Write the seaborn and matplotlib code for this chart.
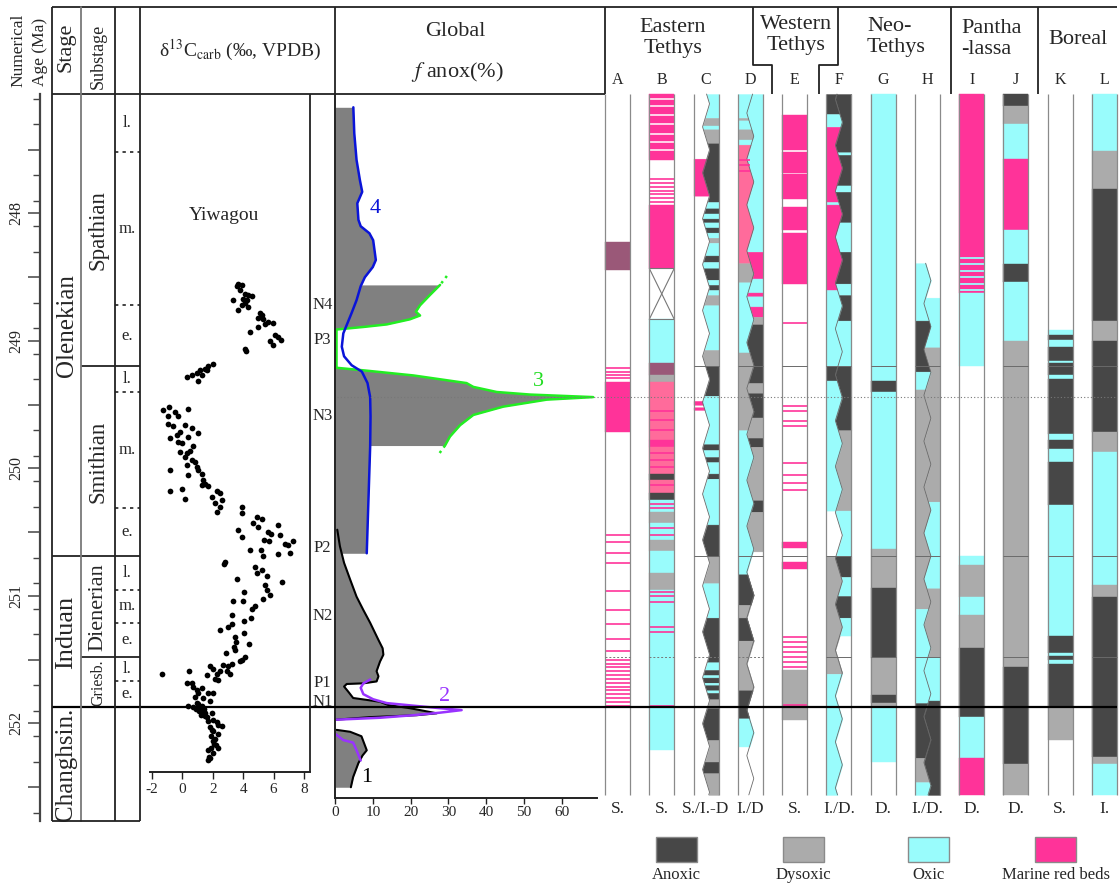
import numpy as np
import matplotlib
matplotlib.use("Agg")
import matplotlib.pyplot as plt
from matplotlib.patches import Rectangle
import seaborn as sns

sns.set_theme(style="ticks")
plt.rcParams["font.family"] = ["Liberation Serif", "DejaVu Serif"]
plt.rcParams["mathtext.fontset"] = "stix"
plt.rcParams["axes.unicode_minus"] = False

# ---------------------------------------------------------------- stratigraphy
STAGE_LABELS = ["Olenekian", "Induan", "Changhsin."]
STAGE_BOUNDS = [247.063, 250.69, 251.874, 252.765]
SUBSTAGE_LABELS = ["Spathian", "Smithian", "Dienerian", "Griesb."]
SUBSTAGE_BOUNDS = [247.063, 249.20, 250.69, 251.48, 251.874]
SUBDIV_LABELS = ["l.", "m.", "e.", "l.", "m.", "e.", "l.", "m.", "e.", "l.", "e."]
SUBDIV_BOUNDS = [247.063, 247.52, 248.72, 249.20, 249.40, 250.31, 250.69,
                 250.95, 251.21, 251.48, 251.67, 251.874]
SUBDIV_SOLID = [249.20, 250.69, 251.48]
PTB_AGE = 251.874
N3_PEAK_AGE = 249.44
AGE_TICKS = [248, 249, 250, 251, 252]

# anoxic (N) and post-event (P) intervals
NP_LABELS = ["N4", "P3", "N3", "P2", "N2", "P1", "N1"]
NP_AGES = [248.72, 248.99, 249.59, 250.62, 251.16, 251.68, 251.83]

# ---------------------------------------------------------------- d13C, Yiwagou
D13C = [3.68, 3.90, 3.57, 3.79, 4.12, 4.34, 4.56, 4.01, 4.23, 3.35, 4.12, 3.90, 4.34, 3.68,
        5.11, 5.22, 4.99, 5.32, 5.65, 5.98, 4.99, 5.43, 4.45, 6.09, 6.31, 6.49, 5.76, 5.98,
        4.12, 4.16,
        0.28, 0.61, 0.94, 1.16, 1.49, 1.71, 2.04, 1.05, 1.27, 1.60,
        -1.25, -0.88, 0.35, -0.97, -0.49, -0.27, -0.92, -0.60, 0.17, 0.61, -0.16, 1.05, -0.38,
        -0.82, 0.39, -0.27, -0.05, 0.72, -0.16, 0.28, 0.50, 0.17, 0.61, 0.83, 0.28, 0.94, 1.05,
        1.27, -0.82, 0.39, 1.38, 1.49, 1.27, 1.71, -0.82, -0.05, 0.17, 2.25, 2.47, 1.93, 2.58,
        2.15, 2.47, 2.25,
        3.90, 3.94, 4.89, 5.22, 4.67, 4.99, 6.31, 3.68, 5.65, 5.83, 3.90, 6.42, 5.39, 5.70,
        6.75, 7.30, 6.97, 4.45, 5.17, 6.31, 7.08, 5.32, 2.80, 2.76, 4.78, 5.22, 4.93, 5.54,
        6.53, 3.57, 5.43, 5.54, 4.07, 5.32, 5.76, 3.35, 3.97, 4.56, 4.78, 3.29, 4.51, 4.05,
        2.98, 2.47, 3.24, 3.46, 3.50, 4.03, 3.42, 4.38, 3.46, 2.87, 4.12, 3.90, 3.79, 3.24,
        3.02, 2.69, 1.82, 2.04, 2.25, 2.47, 2.91, 3.13, 1.60, 2.15, 2.36, -1.32, 0.43, 0.28,
        0.61, 0.72, 0.94, 1.27, 1.71, 2.04, 1.05, 0.83, 1.38, 1.82, 0.39, 0.72, 1.05, 1.27,
        1.44, 0.94, 1.49, 1.60, 1.93, 2.04, 2.25, 2.36, 2.63, 1.93, 2.32, 2.15, 2.04, 2.19,
        2.32, 1.71, 1.75, 1.66,
        1.00, 1.20, 1.10, 1.30, 0.90, 1.40, 1.20, 1.50, 1.70, 1.80, 2.00, 1.90, 2.10, 1.90,
        2.00, 1.80]
D13C_AGE = [248.55, 248.56, 248.57, 248.60, 248.63, 248.64, 248.65, 248.67, 248.68, 248.68,
            248.70, 248.72, 248.73, 248.76, 248.78, 248.80, 248.82, 248.83, 248.85, 248.86,
            248.89, 248.87, 248.93, 248.95, 248.97, 248.99, 249.00, 249.03, 249.06, 249.08,
            249.28, 249.27, 249.25, 249.23, 249.22, 249.20, 249.18, 249.31, 249.27, 249.23,
            249.54, 249.52, 249.53, 249.59, 249.56, 249.59, 249.65, 249.67, 249.66, 249.68,
            249.71, 249.72, 249.74, 249.76, 249.75, 249.79, 249.80, 249.82, 249.87, 249.88,
            249.86, 249.91, 249.93, 249.95, 249.97, 249.99, 250.01, 250.04, 250.01, 250.05,
            250.09, 250.12, 250.13, 250.14, 250.18, 250.16, 250.24, 250.18, 250.19, 250.22,
            250.25, 250.27, 250.30, 250.34,
            250.30, 250.35, 250.38, 250.40, 250.43, 250.46, 250.44, 250.48, 250.50, 250.51,
            250.54, 250.52, 250.56, 250.57, 250.59, 250.57, 250.60, 250.64, 250.64, 250.67,
            250.66, 250.69, 250.73, 250.75, 250.77, 250.80, 250.82, 250.84, 250.89, 250.87,
            250.91, 250.95, 250.97, 251.02, 250.99, 251.04, 251.04, 251.10, 251.08, 251.15,
            251.17, 251.20, 251.24, 251.27, 251.22, 251.32, 251.36, 251.29, 251.40, 251.38,
            251.42, 251.45, 251.48, 251.50, 251.51, 251.53, 251.55, 251.54, 251.55, 251.57,
            251.61, 251.59, 251.59, 251.61, 251.62, 251.65, 251.66, 251.61, 251.59, 251.68,
            251.68, 251.71, 251.74, 251.72, 251.76, 251.76, 251.76, 251.79, 251.80, 251.82,
            251.86, 251.87, 251.85, 251.88, 251.89, 251.84, 251.92, 251.95, 251.92, 251.97,
            251.99, 252.01, 252.02, 252.05, 252.08, 252.12, 252.14, 252.17, 252.19, 252.21,
            252.26, 252.29,
            251.88, 251.87, 251.90, 251.86, 251.89, 251.91, 251.93, 251.94, 251.98, 252.03,
            252.06, 252.10, 252.16, 252.19, 252.23, 252.27]

# ---------------------------------------------------------------- global f-anox (%)
BLUE_AGE = [247.167, 247.371, 247.58, 247.74, 247.83, 247.92, 248.05, 248.10, 248.155,
            248.21, 248.365, 248.42, 248.50, 248.57, 248.68, 248.78, 248.86, 248.94, 249.045,
            249.12, 249.19, 249.24, 249.33, 249.44, 249.59, 249.83, 250.665]
BLUE_PCT = [4.85, 5.1, 5.7, 6.6, 7.2, 5.9, 6.2, 6.8, 9.1, 10.1, 10.8, 10.0, 7.9, 6.8, 5.7,
            4.4, 3.3, 2.2, 1.8, 2.4, 4.4, 7.1, 8.6, 9.3, 9.4, 9.3, 8.4]

GREEN_AGE = [248.56, 248.64, 248.72, 248.77, 248.80, 248.83, 248.87, 248.89, 248.91, 249.21,
             249.23, 249.27, 249.33, 249.36, 249.40, 249.42, 249.44, 249.46, 249.515, 249.58,
             249.66, 249.75, 249.82]
GREEN_PCT = [27.8, 25.1, 22.5, 21.4, 22.5, 19.8, 13.7, 7.5, 0.4, 0.4, 7.5, 20.7, 34.8, 36.6,
             42.8, 51.6, 68.3, 56.0, 44.5, 36.6, 33.1, 30.4, 29.1]
GREEN_TOP_TAIL_AGE = [248.49, 248.56]
GREEN_TOP_TAIL_PCT = [29.6, 27.8]
GREEN_BASE_TAIL_AGE = [249.82, 249.89]
GREEN_BASE_TAIL_PCT = [29.1, 27.4]

BLACK_UP_AGE = [250.48, 250.61, 250.74, 250.87, 251.005, 251.11, 251.21, 251.345, 251.41,
                251.46, 251.515, 251.59, 251.63, 251.67, 251.685, 251.69, 251.71, 251.75,
                251.80, 251.815, 251.83, 251.855, 251.88, 251.895, 251.92, 251.935, 251.95,
                251.97]
BLACK_UP_PCT = [0.6, 1.3, 2.4, 4.0, 5.7, 7.5, 9.3, 11.5, 12.6, 12.8, 11.9, 11.0, 11.5, 11.0,
                7.5, 3.1, 2.4, 3.5, 4.8, 8.4, 11.9, 14.1, 19.8, 22.5, 26.9, 21.6, 9.3, 0.4]
BLACK_LOW_AGE = [252.05, 252.065, 252.10, 252.21, 252.25, 252.31, 252.42, 252.50]
BLACK_LOW_PCT = [0.4, 4.0, 7.0, 8.4, 7.3, 6.2, 4.8, 4.2]

PURPLE_UP_AGE = [251.655, 251.685, 251.72, 251.77, 251.81, 251.84, 251.86, 251.88, 251.895,
                 251.915, 251.935, 251.955, 251.97]
PURPLE_UP_PCT = [9.3, 7.5, 6.8, 7.5, 10.1, 13.7, 20.7, 27.8, 33.5, 27.8, 20.7, 11.9, 0.4]
PURPLE_LOW_AGE = [252.08, 252.13, 252.15, 252.21, 252.29]
PURPLE_LOW_PCT = [0.0, 2.2, 4.8, 5.7, 6.8]

CURVE_LABELS = ["1", "2", "3", "4"]
CURVE_LABEL_AGE = [252.42, 251.79, 249.32, 247.96]
CURVE_LABEL_PCT = [8.5, 29.1, 53.7, 10.5]

# ---------------------------------------------------------------- redox columns
# codes: A anoxic, D dysoxic, O oxic, R marine red beds, P pale red beds, M mauve, X no record
COL_A = [(248.22, 248.44, "M"), (249.32, 249.71, "R")]
COL_A_RED_LINES = [249.215, 249.24, 249.265, 249.29, 250.52, 250.58, 250.66, 250.74, 250.96,
                   251.11, 251.22, 251.34, 251.43, 251.50, 251.53, 251.56, 251.59, 251.62,
                   251.65, 251.68, 251.71, 251.74, 251.77, 251.80, 251.83, 251.86]

COL_B = [(247.063, 247.58, "R"), (247.93, 248.43, "R"), (248.43, 248.83, "X"),
         (248.83, 249.17, "O"), (249.17, 249.27, "M"), (249.27, 249.32, "D"),
         (249.32, 249.78, "P"), (249.78, 249.83, "R"), (249.83, 250.04, "P"),
         (250.04, 250.09, "A"), (250.09, 250.19, "P"), (250.19, 250.25, "A"),
         (250.25, 250.34, "O"), (250.34, 250.43, "D"), (250.43, 250.56, "O"),
         (250.56, 250.65, "D"), (250.65, 250.82, "O"), (250.82, 250.95, "D"),
         (250.95, 252.21, "O")]
COL_B_RED_LINES = [247.73, 247.76, 247.79, 247.82, 247.85, 247.88, 247.91, 249.55, 249.62,
                   249.70, 249.88, 249.93, 249.99, 250.13, 250.28, 250.31, 250.47, 250.52,
                   250.97, 251.00, 251.05, 251.24, 251.28, 251.86]
COL_B_WHITE_LINES = [247.10, 247.16, 247.23, 247.30, 247.38, 247.44, 247.50]

COL_C_LEFT = [(247.57, 247.86, "R"), (249.47, 249.50, "R"), (249.52, 249.54, "R")]
COL_C_RIGHT = [
    (247.063, 247.25, "O"), (247.25, 247.31, "D"), (247.31, 247.34, "O"), (247.34, 247.45, "D"),
    (247.45, 247.91, "A"), (247.91, 247.96, "O"), (247.96, 248.00, "A"), (248.00, 248.04, "O"),
    (248.04, 248.07, "A"), (248.07, 248.11, "O"), (248.11, 248.15, "A"), (248.15, 248.19, "O"),
    (248.19, 248.23, "D"), (248.23, 248.33, "O"), (248.33, 248.38, "A"), (248.38, 248.43, "O"),
    (248.43, 248.52, "A"), (248.52, 248.56, "O"), (248.56, 248.60, "A"), (248.60, 248.64, "O"),
    (248.64, 248.72, "D"), (248.72, 249.07, "O"), (249.07, 249.20, "D"), (249.20, 249.43, "A"),
    (249.43, 249.81, "O"), (249.81, 249.855, "A"), (249.855, 249.91, "O"), (249.91, 249.95, "A"),
    (249.95, 250.04, "O"), (250.04, 250.08, "A"), (250.08, 250.44, "O"), (250.44, 250.69, "A"),
    (250.69, 250.90, "D"), (250.90, 251.17, "O"), (251.17, 251.52, "A"), (251.52, 251.58, "O"),
    (251.58, 251.62, "A"), (251.62, 251.64, "O"), (251.64, 251.68, "A"), (251.68, 251.70, "O"),
    (251.70, 251.74, "A"), (251.74, 251.76, "O"), (251.76, 251.81, "A"), (251.81, 251.88, "D"),
    (251.88, 252.13, "A"), (252.13, 252.30, "D"), (252.30, 252.39, "A"), (252.39, 252.56, "D")]

COL_D_LEFT = [
    (247.063, 247.25, "O"), (247.25, 247.27, "D"), (247.27, 247.34, "O"), (247.34, 247.42, "D"),
    (247.42, 247.46, "O"), (247.46, 248.39, "P"), (248.39, 248.54, "D"), (248.54, 249.09, "O"),
    (249.09, 249.70, "D"), (249.70, 250.83, "O"), (250.83, 251.07, "A"), (251.07, 251.17, "D"),
    (251.17, 251.35, "A"), (251.35, 251.74, "D"), (251.74, 251.96, "A"), (251.96, 252.18, "O")]
COL_D_RIGHT = [
    (247.063, 248.30, "O"), (248.30, 248.51, "R"), (248.51, 248.62, "O"), (248.62, 248.65, "R"),
    (248.65, 248.73, "O"), (248.73, 248.81, "R"), (248.81, 248.87, "D"), (248.87, 249.33, "A"),
    (249.33, 249.41, "D"), (249.41, 249.60, "A"), (249.60, 249.76, "D"), (249.76, 249.83, "A"),
    (249.83, 250.25, "D"), (250.25, 250.34, "A"), (250.34, 250.65, "D")]
COL_D_RED_LINES = [247.58, 247.62, 247.67]

COL_E = [(247.23, 247.50, "R"), (247.52, 247.68, "R"), (247.69, 247.89, "R"),
         (247.95, 248.13, "R"), (248.15, 248.55, "R"), (250.58, 250.62, "R"),
         (250.73, 250.79, "R"), (251.58, 251.97, "D")]
COL_E_RED_LINES = [248.86, 249.51, 249.55, 249.63, 249.67, 249.96, 250.05, 250.11, 250.17,
                   251.32, 251.36, 251.40, 251.44, 251.48, 251.52, 251.56, 251.855]

COL_F_LEFT = [
    (247.063, 247.22, "A"), (247.22, 247.32, "O"), (247.32, 247.91, "R"), (247.91, 247.93, "O"),
    (247.93, 248.60, "R"), (248.60, 249.20, "O"), (249.20, 249.31, "A"), (249.31, 250.33, "O"),
    (250.69, 251.61, "D"), (251.61, 252.56, "O")]
COL_F_RIGHT = [
    (247.063, 247.52, "A"), (247.52, 247.54, "O"), (247.54, 247.78, "A"), (247.78, 247.83, "O"),
    (247.83, 248.07, "A"), (248.07, 248.30, "O"), (248.30, 248.55, "A"), (248.55, 248.64, "O"),
    (248.64, 248.84, "A"), (248.84, 249.20, "O"), (249.20, 249.70, "A"), (249.70, 250.33, "D"),
    (250.33, 250.69, "O"), (250.69, 250.85, "A"), (250.85, 251.00, "O"), (251.00, 251.17, "A"),
    (251.17, 251.31, "O")]

COL_G = [(247.063, 249.31, "O"), (249.31, 249.40, "A"), (249.40, 250.63, "O"),
         (250.63, 250.94, "D"), (250.94, 251.49, "A"), (251.49, 251.78, "D"),
         (251.78, 251.84, "A"), (251.84, 251.87, "D"), (251.87, 252.30, "O")]

COL_H_LEFT = [(248.39, 248.84, "O"), (248.84, 249.24, "A"), (249.24, 249.38, "O"),
              (249.38, 251.10, "D"), (251.10, 251.84, "O"), (251.84, 252.27, "A"),
              (252.27, 252.46, "D"), (252.46, 252.56, "O")]
COL_H_RIGHT = [(248.66, 249.05, "O"), (249.05, 250.26, "D"), (250.26, 250.94, "O"),
               (250.94, 251.48, "D"), (251.48, 251.82, "O"), (251.82, 252.56, "A")]

COL_I = [(247.063, 248.62, "R"), (248.62, 249.20, "O"), (250.69, 250.76, "O"),
         (250.76, 251.01, "D"), (251.01, 251.15, "O"), (251.15, 251.41, "D"),
         (251.41, 251.95, "A"), (251.95, 252.27, "O"), (252.27, 252.56, "R")]
COL_I_OXIC_LINES = [248.35, 248.40, 248.45, 248.50, 248.55, 248.60]

COL_J = [(247.063, 247.16, "A"), (247.16, 247.30, "D"), (247.30, 247.57, "O"),
         (247.57, 248.13, "R"), (248.13, 248.40, "O"), (248.40, 248.54, "A"),
         (248.54, 249.00, "O"), (249.00, 251.56, "D"), (251.56, 252.32, "A"),
         (252.32, 252.56, "D")]

COL_K = [(248.91, 248.95, "O"), (248.95, 248.99, "A"), (248.99, 249.05, "O"),
         (249.05, 249.16, "A"), (249.16, 249.17, "O"), (249.17, 249.27, "A"),
         (249.27, 249.30, "O"), (249.30, 249.73, "A"), (249.73, 249.78, "O"),
         (249.78, 249.85, "A"), (249.85, 249.95, "O"), (249.95, 250.29, "A"),
         (250.29, 251.31, "O"), (251.31, 251.45, "A"), (251.45, 251.47, "O"),
         (251.47, 251.50, "A"), (251.50, 251.53, "O"), (251.53, 251.88, "A"),
         (251.88, 252.13, "D")]

COL_L = [(247.063, 247.51, "O"), (247.51, 247.81, "D"), (247.81, 248.84, "A"),
         (248.84, 249.00, "D"), (249.00, 249.71, "A"), (249.71, 249.87, "D"),
         (249.87, 250.91, "O"), (250.91, 251.01, "D"), (251.01, 252.26, "A"),
         (252.26, 252.32, "D"), (252.32, 252.56, "O")]

COLUMN_LETTERS = ["A", "B", "C", "D", "E", "F", "G", "H", "I", "J", "K", "L"]
COLUMN_SETTINGS = ["S.", "S.", "S./I.-D", "I./D", "S.", "I./D.", "D.", "I./D.", "D.", "D.",
                   "S.", "I."]
LEGEND_LABELS = ["Anoxic", "Dysoxic", "Oxic", "Marine red beds"]

# ---------------------------------------------------------------- styling
FACIES = {"A": "#474747", "D": "#ababab", "O": "#99fcfc", "R": "#ff3399",
          "P": "#ff6b9b", "M": "#9a5878"}
FILL_GREY = "#808080"
LINE = "#222222"

W, H = 1120, 889
AGE_TOP = 246.3255                # age at the upper edge of the sheet
PX_PER_MA = 127.5
AGE_BOT = AGE_TOP + H / PX_PER_MA
COL_TOP, COL_BASE = 247.063, 252.56
TABLE_BASE = 252.765

fig = plt.figure(figsize=(W / 100, H / 100), dpi=100)
fig.patch.set_facecolor("white")


def column_axes(x0, x1):
    ax = fig.add_axes([x0 / W, 0, (x1 - x0) / W, 1])
    ax.set_ylim(AGE_BOT, AGE_TOP)
    ax.patch.set_visible(False)
    return ax


# ---------------------------------------------------------------- numerical age axis
ax_age = column_axes(40, 41)
ax_age.set_xlim(0, 1)
for side in ("top", "right", "bottom"):
    ax_age.spines[side].set_visible(False)
ax_age.spines["left"].set_bounds(COL_TOP, TABLE_BASE)
ax_age.spines["left"].set_linewidth(1.6)
ax_age.spines["left"].set_color("#444444")
major = np.arange(247.5, 252.76, 0.5)
ax_age.set_yticks(major)
ax_age.set_yticklabels([f"{int(t)}" if t in AGE_TICKS else "" for t in major])
ax_age.set_yticks([t for t in np.arange(247.1, 252.75, 0.2)], minor=True)
ax_age.set_xticks([])
ax_age.tick_params(axis="y", which="major", length=9, width=1.1, color="#444444",
                   direction="out", labelsize=11.5, labelrotation=90, pad=2)
ax_age.tick_params(axis="y", which="minor", length=5, width=1.0, color="#444444",
                   direction="out")
for lab in ax_age.get_yticklabels():
    lab.set_va("center")

# ---------------------------------------------------------------- d13C panel
ax_c = column_axes(140, 335)
sns.scatterplot(x=D13C, y=D13C_AGE, ax=ax_c, color="black", s=17, linewidth=0, legend=False)
ax_c.set_xlim(-2.789, 10.039)
ax_c.set_ylim(AGE_BOT, AGE_TOP)
ax_c.set(xlabel="", ylabel="")
for side in ("top", "right", "left"):
    ax_c.spines[side].set_visible(False)
ax_c.spines["bottom"].set_position(("data", 252.38))
ax_c.spines["bottom"].set_bounds(-2.13, 8.39)
ax_c.spines["bottom"].set_linewidth(1.4)
ax_c.spines["bottom"].set_color(LINE)
ax_c.set_xticks([-2, 0, 2, 4, 6, 8])
ax_c.set_yticks([])
ax_c.tick_params(axis="x", length=5, width=1, direction="out", labelsize=11, pad=3,
                 color=LINE)

# ---------------------------------------------------------------- f-anox panel
ax_f = column_axes(335, 605)
ax_f.set_xlim(0, 71.43)
blue_age = np.array(BLUE_AGE)
blue_pct = np.array(BLUE_PCT)
upper = blue_age <= 248.7
lower = blue_age >= 249.5
ax_f.fill_betweenx(blue_age[upper], 0, blue_pct[upper], color=FILL_GREY, lw=0)
ax_f.fill_betweenx(blue_age[lower], 0, blue_pct[lower], color=FILL_GREY, lw=0)
ax_f.fill_betweenx(GREEN_AGE, 0, GREEN_PCT, color=FILL_GREY, lw=0)
ax_f.fill_betweenx(BLACK_UP_AGE, 0, BLACK_UP_PCT, color=FILL_GREY, lw=0)
ax_f.fill_betweenx(BLACK_LOW_AGE, 0, BLACK_LOW_PCT, color=FILL_GREY, lw=0)

line_kw = dict(ax=ax_f, sort=False, estimator=None, legend=False)
sns.lineplot(x=BLACK_UP_PCT, y=BLACK_UP_AGE, color="black", linewidth=1.5, **line_kw)
sns.lineplot(x=BLACK_LOW_PCT, y=BLACK_LOW_AGE, color="black", linewidth=1.5, **line_kw)
sns.lineplot(x=PURPLE_UP_PCT, y=PURPLE_UP_AGE, color="#9933ff", linewidth=1.8, **line_kw)
sns.lineplot(x=PURPLE_LOW_PCT, y=PURPLE_LOW_AGE, color="#9933ff", linewidth=1.8, **line_kw)
sns.lineplot(x=GREEN_PCT, y=GREEN_AGE, color="#22ee22", linewidth=1.8, **line_kw)
sns.lineplot(x=GREEN_TOP_TAIL_PCT, y=GREEN_TOP_TAIL_AGE, color="#22ee22", linewidth=1.8,
             linestyle=":", **line_kw)
sns.lineplot(x=GREEN_BASE_TAIL_PCT, y=GREEN_BASE_TAIL_AGE, color="#22ee22", linewidth=1.8,
             linestyle=":", **line_kw)
sns.lineplot(x=BLUE_PCT, y=BLUE_AGE, color="#0a14d8", linewidth=1.8, **line_kw)
curve_colors = ["black", "#9933ff", "#22dd22", "#0a14d8"]
for lab, a, p, c in zip(CURVE_LABELS, CURVE_LABEL_AGE, CURVE_LABEL_PCT, curve_colors):
    ax_f.text(p, a, lab, color=c, fontsize=16, ha="center", va="center")
ax_f.set_xlim(0, 71.43)
ax_f.set_ylim(AGE_BOT, AGE_TOP)
ax_f.set(xlabel="", ylabel="")
for side in ("top", "right"):
    ax_f.spines[side].set_visible(False)
ax_f.spines["left"].set_bounds(COL_TOP, 252.584)
ax_f.spines["bottom"].set_position(("data", 252.584))
ax_f.spines["bottom"].set_bounds(0, 69.3)
for side in ("left", "bottom"):
    ax_f.spines[side].set_linewidth(1.4)
    ax_f.spines[side].set_color(LINE)
ax_f.set_xticks([0, 10, 20, 30, 40, 50, 60])
ax_f.set_yticks([])
ax_f.tick_params(axis="x", length=4, width=1, direction="out", labelsize=11, pad=2,
                 color=LINE)

# ---------------------------------------------------------------- redox columns
COL_STEP = 44.27
ax_r = column_axes(600, 1120)
ax_r.set_xlim(-5 / COL_STEP, 520 / COL_STEP - 5 / COL_STEP)
ax_r.axis("off")
CW = 25 / COL_STEP
ZIG_PERIOD = 0.36


def zig_x(i, ages, phase):
    t = np.asarray(ages) / ZIG_PERIOD + phase
    tri = 2 * np.abs(t - np.floor(t + 0.5))
    return i + CW * (0.36 + 0.28 * tri)


def draw_column(i, intervals):
    for top, base, code in intervals:
        if code == "X":
            ax_r.plot([i, i + CW], [top, base], color="#777777", lw=0.8)
            ax_r.plot([i + CW, i], [top, base], color="#777777", lw=0.8)
            ax_r.hlines([top, base], i, i + CW, colors="#777777", lw=0.8)
            continue
        c = FACIES[code]
        ax_r.bar(i, base - top, bottom=top, width=CW, align="edge", color=c,
                 edgecolor=c, linewidth=0.3)


def draw_split(i, left, right, phase, start=COL_TOP):
    for intervals, side in ((left, "L"), (right, "R")):
        for top, base, code in intervals:
            a = np.linspace(top, base, 90)
            z = zig_x(i, a, phase)
            c = FACIES[code]
            if side == "L":
                ax_r.fill_betweenx(a, i, z, color=c, lw=0.3, edgecolor=c)
            else:
                ax_r.fill_betweenx(a, z, i + CW, color=c, lw=0.3, edgecolor=c)
    a = np.linspace(start, COL_BASE, 800)
    ax_r.plot(zig_x(i, a, phase), a, color="#6a6a6a", lw=0.6)


def lines(i, ages, code_color, lw=1.3):
    ax_r.hlines(ages, i, i + CW, colors=code_color, lw=lw)


draw_column(0, COL_A)
lines(0, COL_A_RED_LINES, FACIES["R"], 1.2)
draw_column(1, COL_B)
lines(1, COL_B_WHITE_LINES, "white", 1.1)
lines(1, COL_B_RED_LINES, FACIES["R"], 1.2)
draw_split(2, COL_C_LEFT, COL_C_RIGHT, 0.0)
draw_split(3, COL_D_LEFT, COL_D_RIGHT, 0.3)
ax_r.hlines(COL_D_RED_LINES, 3, 3 + CW * 0.5, colors=FACIES["R"], lw=1.2)
draw_column(4, COL_E)
lines(4, COL_E_RED_LINES, FACIES["R"], 1.2)
draw_split(5, COL_F_LEFT, COL_F_RIGHT, 0.6)
draw_column(6, COL_G)
draw_split(7, COL_H_LEFT, COL_H_RIGHT, 0.15, start=248.39)
draw_column(8, COL_I)
lines(8, COL_I_OXIC_LINES, FACIES["O"], 1.3)
draw_column(9, COL_J)
draw_column(10, COL_K)
draw_column(11, COL_L)

for i in range(12):
    ax_r.vlines([i, i + CW], COL_TOP, COL_BASE, colors="#8a8a8a", lw=0.9)
# correlation lines through the columns
for i in range(2, 12):
    if i == 8:
        continue
    ax_r.hlines([249.20, 250.69], i, i + CW, colors="#6a6a6a", lw=0.7)
for i in range(0, 4):
    ax_r.hlines([251.48], i, i + CW, colors="#777777", lw=0.7, linestyles=(0, (2, 2)))
for i in (5, 6, 7, 9, 11):
    ax_r.hlines([251.48], i, i + CW, colors="#6a6a6a", lw=0.7)
ax_r.set_ylim(AGE_BOT, AGE_TOP)

# ---------------------------------------------------------------- stratigraphic table
strat = column_axes(0, W)
strat.set_xlim(0, W)
strat.axis("off")
strat.hlines(STAGE_BOUNDS[1:2], 52, 81, colors=LINE, lw=1.3)
strat.hlines(SUBSTAGE_BOUNDS[1:4], 81, 140, colors=LINE, lw=1.3)
dotted = [b for b in SUBDIV_BOUNDS[1:-1] if b not in SUBDIV_SOLID]
strat.hlines(dotted, 115, 140, colors=LINE, lw=1.2, linestyles=(0, (2, 2.5)))
strat.hlines([PTB_AGE], 52, 1117, colors="black", lw=1.6)
strat.hlines([N3_PEAK_AGE], 337, 1117, colors="#777777", lw=0.8, linestyles=(0, (1, 2)))

stage_fs = [18, 19, 18]
for lab, a0, a1, fs in zip(STAGE_LABELS, STAGE_BOUNDS[:-1], STAGE_BOUNDS[1:], stage_fs):
    strat.text(66.5, (a0 + a1) / 2, lab, rotation=90, ha="center", va="center", fontsize=fs)
sub_fs = [16.5, 16.5, 16, 11.5]
for lab, a0, a1, fs in zip(SUBSTAGE_LABELS, SUBSTAGE_BOUNDS[:-1], SUBSTAGE_BOUNDS[1:], sub_fs):
    strat.text(98, (a0 + a1) / 2, lab, rotation=90, ha="center", va="center", fontsize=fs)
for lab, a0, a1 in zip(SUBDIV_LABELS, SUBDIV_BOUNDS[:-1], SUBDIV_BOUNDS[1:]):
    strat.text(127.5, (a0 + a1) / 2, lab, ha="center", va="center", fontsize=12)
for lab, a in zip(NP_LABELS, NP_AGES):
    strat.text(322.5, a, lab, ha="center", va="center", fontsize=12)
strat.set_ylim(AGE_BOT, AGE_TOP)

# ---------------------------------------------------------------- frame, headers, legend
fr = fig.add_axes([0, 0, 1, 1])
fr.set_xlim(0, W)
fr.set_ylim(H, 0)
fr.axis("off")
fr.patch.set_visible(False)
seg = dict(color=LINE, lw=1.3, solid_capstyle="butt")
fr.plot([52, 1117], [7, 7], **seg)
fr.plot([52, 605], [94, 94], **seg)
for x in (52, 115, 140):
    fr.plot([x, x], [7, 821], **seg)
fr.plot([81, 81], [7, 821], color="#7a7a7a", lw=1.3)
fr.plot([52, 140], [821, 821], **seg)
for x in (335, 605, 951, 1038):
    fr.plot([x, x], [7, 94], **seg)
fr.plot([310, 310], [94, 772], **seg)
fr.plot([753, 753, 772, 772], [7, 65, 65, 94], **seg)
fr.plot([838, 838, 819, 819], [7, 65, 65, 94], **seg)

fr.text(18, 50, "Numerical", rotation=90, ha="center", va="center", fontsize=12.5)
fr.text(40, 52, "Age (Ma)", rotation=90, ha="center", va="center", fontsize=12.5)
fr.text(66, 47, "Stage", rotation=90, ha="center", va="center", fontsize=16)
fr.text(98, 56, "Substage", rotation=90, ha="center", va="center", fontsize=13)
fr.text(240, 50, "δ$^{13}$C$_{\\mathrm{carb}}$ (‰, VPDB)", ha="center", va="center",
        fontsize=14)
fr.text(224, 216, "Yiwagou", ha="center", va="center", fontsize=14)
fr.text(455, 31, "Global", ha="center", va="center", fontsize=16)
fr.text(457, 72, "$f$ anox(%)", ha="center", va="center", fontsize=16)

fr.text(673, 38, "Eastern\nTethys", ha="center", va="center", fontsize=16,
        linespacing=1.15)
fr.text(796, 35, "Western\nTethys", ha="center", va="center", fontsize=16,
        linespacing=1.15)
fr.text(867, 37, "Neo-\nTethys", ha="left", va="center", fontsize=16, linespacing=1.15)
fr.text(961, 39, "Pantha\n-lassa", ha="left", va="center", fontsize=16, linespacing=1.15)
fr.text(1078, 40, "Boreal", ha="center", va="center", fontsize=16)

centres = [605 + COL_STEP * i + 12.5 for i in range(12)]
for cx, letter, setting in zip(centres, COLUMN_LETTERS, COLUMN_SETTINGS):
    fr.text(cx, 80, letter, ha="center", va="center", fontsize=11.5)
    fr.text(cx, 809, setting, ha="center", va="center", fontsize=12.5)

legend_x = [656, 783, 908, 1035]
legend_codes = ["A", "D", "O", "R"]
for x, code, lab in zip(legend_x, legend_codes, LEGEND_LABELS):
    fr.add_patch(Rectangle((x, 837), 41, 25, facecolor=FACIES[code], edgecolor="#8a8a8a",
                           lw=1.0))
    fr.text(x + 20.5, 875, lab, ha="center", va="center", fontsize=12)

fig.savefig("out.png", dpi=100, facecolor="white")
